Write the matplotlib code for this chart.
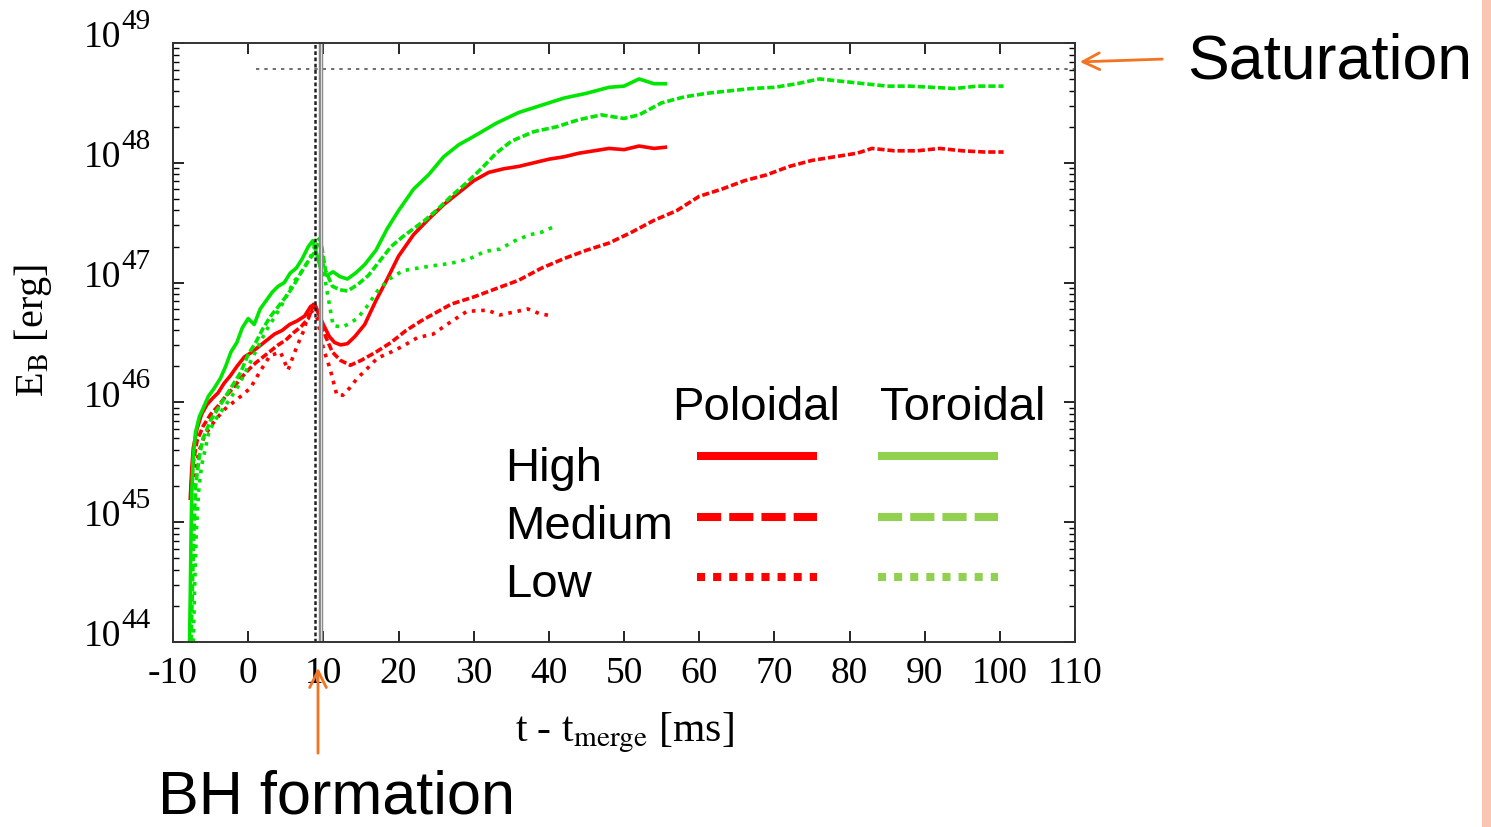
import numpy as np
import matplotlib
matplotlib.use("Agg")
import matplotlib.pyplot as plt
import matplotlib.transforms as mtransforms
from matplotlib.patches import Rectangle, FancyArrowPatch
from matplotlib.lines import Line2D

# data: time [ms] and log10(E_B [erg])
high_pol_t = [-7.7, -7.5, -7.3, -6.8, -6.2, -5.5, -4.8, -4.0, -3.2, -2.4,
              -1.5, -0.5, 0.5, 1.5, 2.5, 3.5, 4.5, 5.5, 6.5, 7.5,
              8.3, 8.8, 9.3, 10.0, 10.8, 11.5, 12.3, 13.2, 14.2, 15.5,
              17.0, 18.5, 20.0, 22.0, 24.0, 26.0, 28.0, 30.0, 32.0, 34.0,
              36.0, 38.0, 40.0, 42.0, 44.0, 46.0, 48.0, 50.0, 52.0, 54.0, 55.5]
high_pol_e = [45.2, 45.45, 45.62, 45.78, 45.9, 45.98, 46.03, 46.08, 46.16, 46.22,
              46.3, 46.38, 46.42, 46.47, 46.52, 46.57, 46.6, 46.65, 46.68, 46.72,
              46.8, 46.82, 46.75, 46.65, 46.55, 46.5, 46.48, 46.49, 46.55, 46.65,
              46.85, 47.03, 47.22, 47.4, 47.53, 47.65, 47.75, 47.85, 47.92, 47.95,
              47.97, 48.0, 48.03, 48.05, 48.08, 48.1, 48.12, 48.11, 48.14, 48.12, 48.13]

high_tor_t = [-7.8, -7.7, -7.6, -7.5, -7.3, -7.0, -6.5, -6.0, -5.3, -4.5,
              -3.7, -3.0, -2.3, -1.5, -0.8, 0.0, 0.8, 1.6, 2.4, 3.2,
              4.0, 4.8, 5.6, 6.4, 7.2, 8.0, 8.6, 9.2, 9.8, 10.5,
              11.3, 12.2, 13.2, 14.3, 15.5, 17.0, 18.5, 20.0, 22.0, 24.0,
              26.0, 28.0, 30.0, 33.0, 36.0, 39.0, 42.0, 45.0, 48.0, 50.0,
              52.0, 54.0, 55.5]
high_tor_e = [44.0, 44.4, 44.9, 45.25, 45.55, 45.75, 45.88, 45.95, 46.05, 46.12,
              46.2, 46.3, 46.42, 46.5, 46.62, 46.7, 46.65, 46.78, 46.85, 46.92,
              46.97, 47.0, 47.08, 47.12, 47.2, 47.3, 47.35, 47.22, 47.08, 47.06,
              47.09, 47.05, 47.03, 47.08, 47.15, 47.27, 47.45, 47.6, 47.78, 47.9,
              48.05, 48.15, 48.22, 48.33, 48.42, 48.48, 48.54, 48.58, 48.63, 48.64,
              48.7, 48.66, 48.66]

med_pol_t = [-7.6, -7.3, -6.8, -6.0, -5.0, -4.0, -3.0, -2.0, -1.0, 0.0,
             1.0, 2.0, 3.0, 4.0, 5.0, 6.0, 7.0, 8.0, 8.8, 9.5,
             10.3, 11.2, 12.3, 13.6, 15.0, 17.0, 19.0, 21.0, 23.0, 25.0,
             27.0, 30.0, 33.0, 36.0, 39.0, 42.0, 45.0, 48.0, 51.0, 54.0,
             57.0, 60.0, 63.0, 66.0, 69.0, 72.0, 75.0, 78.0, 81.0, 83.0,
             86.0, 89.0, 92.0, 95.0, 98.0, 100.5]
med_pol_e = [45.3, 45.5, 45.68, 45.8, 45.9, 45.97, 46.05, 46.12, 46.2, 46.27,
             46.33, 46.38, 46.43, 46.48, 46.52, 46.58, 46.63, 46.7, 46.83, 46.72,
             46.55, 46.42, 46.35, 46.31, 46.35, 46.42, 46.5, 46.6, 46.68, 46.75,
             46.82, 46.88, 46.95, 47.02, 47.12, 47.2, 47.27, 47.33, 47.42, 47.52,
             47.6, 47.72, 47.78, 47.85, 47.9, 47.97, 48.02, 48.05, 48.08, 48.12,
             48.1, 48.1, 48.12, 48.1, 48.09, 48.09]

med_tor_t = [-7.6, -7.4, -7.2, -7.0, -6.5, -6.0, -5.0, -4.0, -3.0, -2.0,
             -1.0, 0.0, 1.0, 2.0, 3.0, 4.0, 5.0, 6.0, 7.0, 8.0,
             8.8, 9.6, 10.3, 11.2, 12.2, 13.2, 14.5, 16.0, 17.5, 19.0,
             20.5, 22.0, 23.5, 25.0, 27.0, 29.0, 31.0, 33.0, 35.0, 38.0,
             41.0, 44.0, 47.0, 50.0, 52.0, 55.0, 58.0, 61.0, 64.0, 67.0,
             70.0, 73.0, 76.0, 79.0, 82.0, 85.0, 88.0, 91.0, 94.0, 97.0, 100.5]
med_tor_e = [44.0, 44.5, 44.95, 45.3, 45.55, 45.7, 45.85, 45.95, 46.05, 46.15,
             46.25, 46.4, 46.5, 46.62, 46.72, 46.8, 46.88, 46.97, 47.08, 47.18,
             47.25, 47.37, 47.1, 46.97, 46.94, 46.93, 46.98, 47.06, 47.18, 47.3,
             47.38, 47.45, 47.52, 47.6, 47.72, 47.83, 47.95, 48.08, 48.18, 48.26,
             48.3, 48.36, 48.4, 48.37, 48.4, 48.5, 48.55, 48.58, 48.6, 48.62,
             48.63, 48.66, 48.7, 48.68, 48.66, 48.64, 48.64, 48.63, 48.62, 48.64, 48.64]

low_pol_t = [-7.4, -7.0, -6.5, -5.8, -5.0, -4.0, -3.0, -2.0, -1.0, 0.3,
             1.5, 2.9, 4.3, 5.3, 6.5, 7.4, 8.2, 9.2, 10.0, 10.9,
             11.8, 12.6, 13.5, 14.5, 15.8, 17.2, 19.0, 20.6, 22.5, 24.6,
             26.9, 29.1, 31.8, 33.5, 35.8, 37.2, 38.8, 40.6]
low_pol_e = [45.3, 45.45, 45.6, 45.72, 45.8, 45.88, 45.95, 46.0, 46.05, 46.12,
             46.25, 46.39, 46.42, 46.27, 46.47, 46.6, 46.78, 46.7, 46.45, 46.28,
             46.06, 46.06, 46.12, 46.2, 46.28, 46.37, 46.42, 46.47, 46.54, 46.57,
             46.67, 46.76, 46.77, 46.73, 46.76, 46.78, 46.74, 46.72]

low_tor_t = [-7.3, -7.1, -6.9, -6.6, -6.2, -5.2, -4.2, -3.3, -2.4, -1.2,
             0.0, 1.2, 2.4, 3.6, 4.8, 6.0, 7.2, 8.2, 9.0, 9.5,
             10.3, 11.3, 12.6, 13.5, 14.5, 15.8, 17.2, 18.8, 20.6, 22.5,
             24.5, 26.9, 29.5, 31.5, 33.5, 35.5, 37.5, 39.0, 40.8]
low_tor_e = [44.0, 44.5, 44.92, 45.25, 45.47, 45.76, 45.87, 45.95, 46.03, 46.15,
             46.3, 46.45, 46.6, 46.72, 46.85, 47.0, 47.1, 47.2, 47.33, 47.37,
             47.0, 46.64, 46.63, 46.66, 46.7, 46.8, 46.93, 47.03, 47.1, 47.12,
             47.14, 47.16, 47.2, 47.26, 47.28, 47.35, 47.4, 47.42, 47.47]

saturation_e = 48.78
saturation_t = [1.0, 110.0]
bh_dash_t = 8.9
bh_solid_t = 9.7

x_ticks = [-10, 0, 10, 20, 30, 40, 50, 60, 70, 80, 90, 100, 110]
y_ticks = [44, 45, 46, 47, 48, 49]

row_labels = ["High", "Medium", "Low"]
col_labels = ["Poloidal", "Toroidal"]

RED = "#ff0000"
GREEN = "#00e600"
LEG_GREEN = "#92d050"
ORANGE = "#f47320"

plt.rcParams["font.family"] = "serif"
plt.rcParams["font.serif"] = ["Liberation Serif", "DejaVu Serif"]
plt.rcParams["mathtext.fontset"] = "stix"
plt.rcParams["axes.unicode_minus"] = False

W, H = 1491, 828
fig = plt.figure(figsize=(W / 100, H / 100), dpi=100)
ax = fig.add_axes([173 / W, 1 - 643 / H, (1075 - 173) / W, (643 - 44) / H])

def p(t, e):
    return np.array(t), 10.0 ** np.array(e)

lw = 2.6
ax.plot(*p(high_pol_t, high_pol_e), color=RED, lw=lw, ls="-")
ax.plot(*p(med_pol_t, med_pol_e), color=RED, lw=lw, ls=(0, (2.0, 0.8)))
ax.plot(*p(low_pol_t, low_pol_e), color=RED, lw=lw, ls=(0, (1.0, 1.6)))
ax.plot(*p(high_tor_t, high_tor_e), color=GREEN, lw=lw, ls="-")
ax.plot(*p(med_tor_t, med_tor_e), color=GREEN, lw=lw, ls=(0, (2.0, 0.8)))
ax.plot(*p(low_tor_t, low_tor_e), color=GREEN, lw=lw, ls=(0, (1.0, 1.6)))

# saturation level and BH formation times
ax.plot(saturation_t, [10 ** saturation_e] * 2, color="#555555", lw=1.2, ls=(0, (2, 3)))
ax.axvline(bh_solid_t, color="#888888", lw=3.2)
ax.axvline(bh_solid_t, color="#dddddd", lw=0.8)
ax.axvline(bh_dash_t, color="#222222", lw=1.8, ls=(0, (1.5, 1.0)))

ax.set_yscale("log")
ax.set_xlim(-10, 110)
ax.set_ylim(1e44, 1e49)
ax.set_xticks(x_ticks)
ax.set_yticks([10.0 ** k for k in y_ticks])
ax.set_yticklabels([])
ax.tick_params(which="both", direction="in", top=True, right=True, labelsize=27)
ax.tick_params(which="major", length=8, width=1.2)
ax.tick_params(which="minor", length=4, width=1.0)
ax.tick_params(axis="x", pad=10)
for s in ax.spines.values():
    s.set_linewidth(1.4)
    s.set_color("#333333")

# y tick labels: "10" with a large raised exponent
trans = mtransforms.blended_transform_factory(fig.transFigure, ax.transData)
for k in y_ticks:
    off10 = mtransforms.offset_copy(trans, fig=fig, x=0, y=6, units="dots")
    offexp = mtransforms.offset_copy(trans, fig=fig, x=0, y=22, units="dots")
    ax.text(121 / W, 10.0 ** k, "10", transform=off10, fontsize=27,
            ha="right", va="center", clip_on=False)
    ax.text(121 / W, 10.0 ** k, str(k), transform=offexp, fontsize=21,
            ha="left", va="center", clip_on=False)

ax.set_xlabel(r"t - t$_{\rm merge}$ [ms]", fontsize=30, labelpad=14)
ax.set_ylabel(r"E$_{\rm B}$ [erg]", fontsize=29)
ax.yaxis.set_label_coords((54 - 173) / 902, (643 - 330) / 599)

# hand-made legend
sans = ["Liberation Sans", "DejaVu Sans"]
fig.text(756 / W, 1 - 408 / H, col_labels[0], fontsize=34, family=sans, ha="center", va="center")
fig.text(963 / W, 1 - 408 / H, col_labels[1], fontsize=34, family=sans, ha="center", va="center")
row_y = [469, 527, 585]
line_y = [457, 518, 578]
styles = ["-", (0, (3, 1)), (0, (1, 1))]
for lab, ty, ly, st in zip(row_labels, row_y, line_y, styles):
    fig.text(505 / W, 1 - ty / H, lab, fontsize=34, family=sans, ha="left", va="center")
    fig.add_artist(Line2D([697 / W, 817 / W], [1 - ly / H] * 2, color=RED, lw=5.8,
                          ls=st, solid_capstyle="butt", dash_capstyle="butt"))
    fig.add_artist(Line2D([878 / W, 998 / W], [1 - ly / H] * 2, color=LEG_GREEN, lw=5.8,
                          ls=st, solid_capstyle="butt", dash_capstyle="butt"))

# annotations
fig.text(1187 / W, 1 - 62 / H, "Saturation", fontsize=45, family=sans, ha="left", va="center")
fig.text(158 / W, 1 - 814 / H, "BH formation", fontsize=44, family=sans, ha="left", va="baseline")
arrow = dict(arrowstyle="->", color=ORANGE, lw=2.0, mutation_scale=30)
fig.add_artist(FancyArrowPatch((1165 / W, 1 - 60 / H), (1077 / W, 1 - 63 / H),
                               transform=fig.transFigure, **arrow))
fig.add_artist(FancyArrowPatch((318 / W, 1 - 757 / H), (318 / W, 1 - 666 / H),
                               transform=fig.transFigure, **arrow))

# slide edge strip
fig.add_artist(Rectangle((1482 / W, 0), 9 / W, 1, transform=fig.transFigure,
                         color="#f9c6b3", lw=0))

fig.savefig("out.png", dpi=100)
